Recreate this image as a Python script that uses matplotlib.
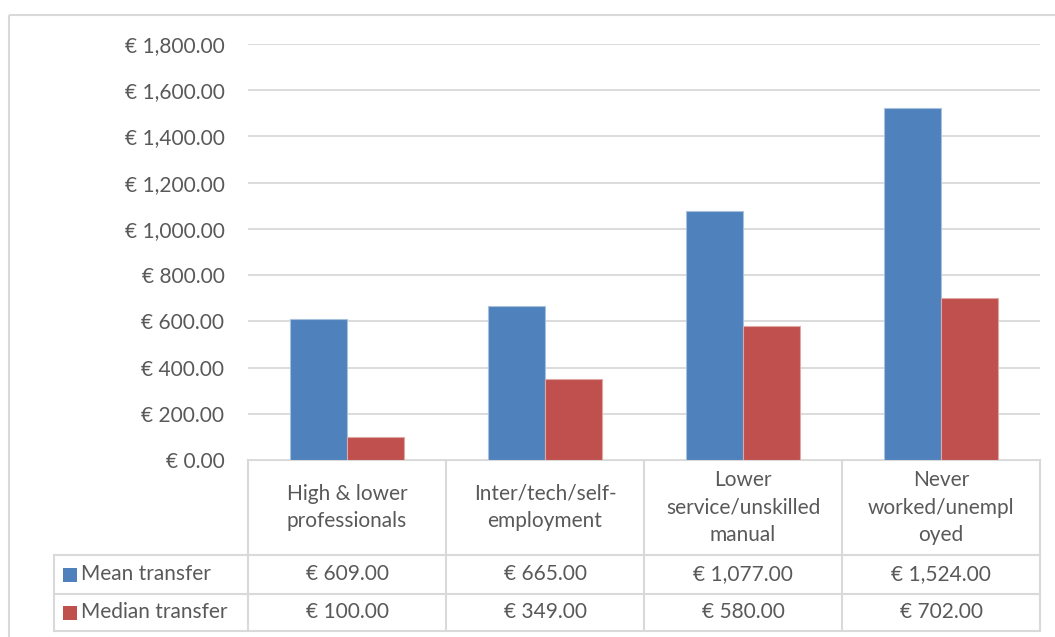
import matplotlib
matplotlib.use("Agg")
import matplotlib.pyplot as plt
from matplotlib.patches import Rectangle
from matplotlib.lines import Line2D
from matplotlib.transforms import blended_transform_factory

# ---- data ----
categories = ["High & lower\nprofessionals", "Inter/tech/self-\nemployment",
              "Lower\nservice/unskilled\nmanual", "Never\nworked/unempl\noyed"]
series_names = ["Mean transfer", "Median transfer"]
mean_transfer = [609, 665, 1077, 1524]
median_transfer = [100, 349, 580, 702]
y_ticks = [0, 200, 400, 600, 800, 1000, 1200, 1400, 1600, 1800]

colors = ["#4F81BD", "#C0504D"]
text_color = "#595959"
grid_color = "#D9D9D9"
FONT = "Lato"
FS = 15

plt.rcParams['font.family'] = [FONT, 'DejaVu Sans']

W, H = 1055, 637
fig = plt.figure(figsize=(W / 100, H / 100), dpi=100)

# overlay in pixel coordinates
ov = fig.add_axes([0, 0, 1, 1])
ov.set_xlim(0, W)
ov.set_ylim(H, 0)
ov.axis("off")

# main axes
x0, x1, ytop, ybot = 248, 1040, 44, 460
ax = fig.add_axes([x0 / W, (H - ybot) / H, (x1 - x0) / W, (ybot - ytop) / H])
ax.set_xlim(-0.5, len(categories) - 0.5)
ax.set_ylim(0, 1800)
ax.set_yticks(y_ticks)
ax.set_yticklabels([f"€ {v:,.2f}" for v in y_ticks], color=text_color, fontsize=FS)
ax.tick_params(axis="y", length=0, pad=17)
ax.set_xticks([])
for s in ax.spines.values():
    s.set_visible(False)
ax.grid(axis="y", color=grid_color, linewidth=1.3)
ax.set_axisbelow(True)

bw = 0.288
xs = list(range(len(categories)))
ax.bar([x - bw / 2 for x in xs], mean_transfer, width=bw, color=colors[0],
       edgecolor="#A7C0DE", linewidth=0.8, zorder=3)
ax.bar([x + bw / 2 for x in xs], median_transfer, width=bw, color=colors[1],
       edgecolor="#DFA8A6", linewidth=0.8, zorder=3)

# outer chart border
ov.add_patch(Rectangle((9, 15), W, H, fill=False, edgecolor=grid_color, linewidth=1.5))

# ---- data table ----
tr = blended_transform_factory(ax.transData, ov.transData)
lc = dict(color=grid_color, linewidth=1.5)
row_head_top, row1_top, row2_top, table_bot = 460, 555, 594, 631
label_left = 54
bounds = [i - 0.5 for i in range(len(categories) + 1)]
# vertical lines
for b in bounds:
    ov.add_line(Line2D([b, b], [row_head_top, table_bot], transform=tr, **lc))
ov.add_line(Line2D([label_left, label_left], [row1_top, table_bot], **lc))
# horizontal lines
ov.add_line(Line2D([bounds[0], bounds[-1]], [row_head_top, row_head_top], transform=tr, **lc))
for yy in (row1_top, row2_top, table_bot):
    ov.add_line(Line2D([label_left, x0], [yy, yy], **lc))
    ov.add_line(Line2D([bounds[0], bounds[-1]], [yy, yy], transform=tr, **lc))

for i, c in enumerate(categories):
    ov.text(i, (row_head_top + row1_top) / 2, c, transform=tr, ha="center", va="center",
            fontsize=FS, color=text_color, linespacing=1.45)

rows = [mean_transfer, median_transfer]
row_centers = [(row1_top + row2_top) / 2, (row2_top + table_bot) / 2]
for r, (vals, yc) in enumerate(zip(rows, row_centers)):
    ov.add_patch(Rectangle((63, yc - 7), 14, 14, facecolor=colors[r], edgecolor="none"))
    ov.text(81, yc, series_names[r], ha="left", va="center", fontsize=FS, color=text_color)
    for i, v in enumerate(vals):
        ov.text(i, yc, f"€ {v:,.2f}", transform=tr, ha="center", va="center",
                fontsize=FS, color=text_color)

fig.savefig("out.png", dpi=100, facecolor="white")
